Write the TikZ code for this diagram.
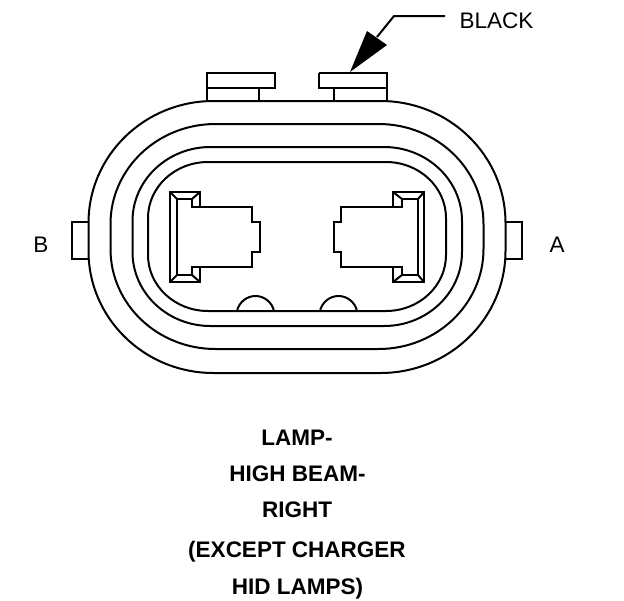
\documentclass[tikz,border=0pt]{standalone}
\usepackage{fontspec}
\setmainfont{Liberation Sans}
\tikzset{
  px/.style={x=1pt,y=-1pt},
  ln/.style={draw=black,line width=2pt,line join=miter},
  thk/.style={draw=black,line width=2.6pt,line join=miter},
  lbl/.style={inner sep=0pt,anchor=base,font=\fontsize{22.5}{22.5}\selectfont},
  captext/.style={inner sep=0pt,anchor=base,font=\fontsize{22.5}{22.5}\selectfont\bfseries},
}
\newcommand{\ovalshape}[6]{% left top right bottom rx ry
  \draw[ln] ({#1+#5},#2) -- ({#3-#5},#2)
   .. controls ({#3-0.4477*#5},#2) and (#3,{#2+0.4477*#6}) .. (#3,{#2+#6})
   -- (#3,{#4-#6})
   .. controls (#3,{#4-0.4477*#6}) and ({#3-0.4477*#5},#4) .. ({#3-#5},#4)
   -- ({#1+#5},#4)
   .. controls ({#1+0.4477*#5},#4) and (#1,{#4-0.4477*#6}) .. (#1,{#4-#6})
   -- (#1,{#2+#6})
   .. controls (#1,{#2+0.4477*#6}) and ({#1+0.4477*#5},#2) .. ({#1+#5},#2) -- cycle;}
\begin{document}
\begin{tikzpicture}[px]
\useasboundingbox (0,0) rectangle (624,600);
\draw[ln] (207,101) -- (207,73) -- (275,73) -- (275,88) -- (207,88);
\draw[ln] (259,88) -- (259,101);
\draw[ln] (319,73) -- (387,73) -- (387,101);
\draw[ln] (319,73) -- (319,88) -- (387,88);
\draw[ln] (334,88) -- (334,101);
\draw[ln] (88,222) -- (72,222) -- (72,259) -- (88,259);
\draw[ln] (505,222) -- (522,222) -- (522,259) -- (505,259);
\ovalshape{88.5}{101}{505.5}{373}{125}{122}
\ovalshape{110.5}{124}{483.5}{349}{105}{100}
\ovalshape{132.5}{147}{462}{326}{78}{74}
\ovalshape{148}{162}{446}{311}{60}{56}
\draw[ln] (237,311) .. controls (239,302) and (247,296) .. (255.5,296) .. controls (264,296) and (272,302) .. (274,311);
\draw[ln] (320,311) .. controls (322,302) and (330,296) .. (338.5,296) .. controls (347,296) and (355,302) .. (357,311);
% left connector
\draw[ln] (170,192) rectangle (200,282);
\draw[thk] (177,199) -- (177,275);
\draw[ln] (177,199) -- (192,199) (177,275) -- (192,275);
\draw[ln] (170,192)--(177,199) (200,192)--(192,199) (170,282)--(177,275) (200,282)--(192,275);
\draw[ln] (192,199) -- (192,207) -- (252,207) -- (252,222) -- (260,222) -- (260,252) -- (252,252) -- (252,267) -- (192,267) -- (192,275);
\draw[draw=white,line width=2.6pt] (200,208.2) -- (200,265.8);
% right connector
\draw[ln] (393,192) rectangle (424,282);
\draw[ln] (402,199) -- (418,199) -- (418,275) -- (402,275);
\draw[ln] (393,192)--(402,199) (424,192)--(418,199) (393,282)--(402,275) (424,282)--(418,275);
\draw[ln] (402,199) -- (402,207) -- (341,207) -- (341,222) -- (334,222) -- (334,252) -- (341,252) -- (341,267) -- (402,267) -- (402,275);
\draw[draw=white,line width=2.6pt] (393,208.2) -- (393,265.8);
% leader
\coordinate (lead0) at (445,16);
\coordinate (lead1) at (394,16);
\coordinate (lead2) at (377,37);
\draw[ln] (lead0) -- (lead1) -- (lead2);
\fill (350,72) -- (367,31) -- (387,45) -- cycle;
\node[lbl] (black) at (496.5,28) {BLACK};
\node[lbl] (b) at (41,252) {B};
\node[lbl] (a) at (557,252) {A};
\node[captext] (t1) at (297,445) {LAMP-};
\node[captext] (t2) at (297.5,481) {HIGH BEAM-};
\node[captext] (t3) at (297,517) {RIGHT};
\node[captext] (t4) at (297,557.5) {(EXCEPT CHARGER};
\node[captext] (t5) at (297.5,594) {HID LAMPS)};
\end{tikzpicture}
\end{document}
